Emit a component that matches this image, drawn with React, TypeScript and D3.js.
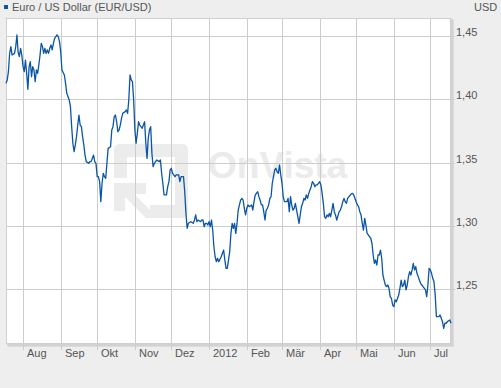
import React from "react";
import * as d3 from "d3";

const TITLE = "Euro / US Dollar (EUR/USD)";
const CURRENCY = "USD";
const START = [2011, 6, 18];
const END = [2012, 6, 18];
const MONTH_LABELS = ["Aug", "Sep", "Okt", "Nov", "Dez", "2012", "Feb", "Mär", "Apr", "Mai", "Jun", "Jul"];
const Y_TICKS = [1.25, 1.3, 1.35, 1.4, 1.45];

// days since 2011-07-18
const dayOffsets = [
  0, 1, 2, 3, 4, 5, 7, 8, 9, 10, 11, 12, 13, 14, 15, 16, 17, 18, 19, 20, 21, 22, 23, 24, 25, 26, 27, 28, 29, 30,
  31, 32, 33, 34, 35, 36, 37, 38, 39, 40, 42, 43, 44, 45, 46, 48, 49, 50, 52, 53, 54, 55, 56, 57, 58, 59, 60, 61, 62, 63,
  64, 65, 66, 68, 69, 70, 72, 73, 74, 75, 76, 77, 78, 79, 80, 81, 82, 83, 84, 86, 87, 88, 89, 90, 91, 92, 93, 94, 95, 96,
  98, 99, 100, 101, 102, 103, 104, 105, 106, 107, 108, 109, 110, 111, 112, 114, 115, 116, 117, 118, 119, 120, 121, 122, 123, 124, 126, 127, 128, 129,
  130, 132, 133, 134, 135, 136, 137, 138, 139, 140, 142, 143, 144, 145, 146, 147, 148, 149, 150, 152, 154, 155, 156, 157, 158, 160, 161, 162, 163, 164,
  165, 166, 167, 168, 169, 170, 171, 172, 173, 174, 175, 177, 178, 179, 180, 181, 182, 183, 184, 185, 186, 187, 188, 189, 190, 191, 192, 193, 194, 195,
  196, 197, 198, 199, 200, 202, 203, 204, 205, 206, 207, 208, 209, 210, 211, 212, 213, 214, 215, 216, 217, 218, 219, 220, 221, 222, 223, 224, 225, 226,
  227, 228, 229, 230, 231, 232, 233, 234, 235, 236, 237, 238, 239, 240, 241, 242, 243, 244, 245, 246, 247, 248, 249, 250, 251, 252, 253, 254, 255, 256,
  257, 258, 259, 260, 261, 262, 263, 264, 265, 266, 267, 268, 269, 270, 271, 272, 274, 275, 276, 277, 278, 279, 280, 281, 282, 284, 285, 286, 288, 289,
  290, 291, 292, 293, 294, 295, 296, 297, 298, 299, 300, 301, 302, 303, 304, 305, 306, 307, 308, 309, 310, 311, 312, 313, 314, 315, 316, 317, 318, 319,
  320, 321, 322, 323, 324, 325, 326, 327, 328, 329, 330, 331, 332, 333, 334, 335, 336, 337, 338, 339, 340, 341, 342, 343, 345, 346, 347, 348, 349, 350,
  351, 352, 353, 354, 355, 356, 357, 358, 359, 360, 361, 362, 363, 364, 365, 366,
];

const rates = [
  1.4126, 1.4153, 1.4218, 1.4363, 1.4416, 1.435, 1.4363, 1.4416, 1.4508, 1.437, 1.4337, 1.4403, 1.435, 1.4258, 1.4218, 1.431, 1.4205, 1.4079, 1.4258, 1.4297, 1.4179, 1.4258, 1.4232, 1.4139, 1.4232, 1.4205, 1.4271, 1.435, 1.4442, 1.4416,
  1.4363, 1.4403, 1.4363, 1.439, 1.4363, 1.4403, 1.443, 1.439, 1.4442, 1.4482, 1.4508, 1.4495, 1.4455, 1.4376, 1.4232, 1.4192, 1.4126, 1.4047, 1.3995, 1.3942, 1.3784, 1.3653, 1.3587, 1.364, 1.3705, 1.3797, 1.3876, 1.3797, 1.3784, 1.3705,
  1.364, 1.356, 1.3508, 1.3495, 1.3508, 1.3508, 1.356, 1.3508, 1.3495, 1.3389, 1.3389, 1.335, 1.3192, 1.3337, 1.3416, 1.3389, 1.3376, 1.3495, 1.3613, 1.3626, 1.3758, 1.3784, 1.3863, 1.3876, 1.3823, 1.3744, 1.3758, 1.3797, 1.385, 1.3889,
  1.3903, 1.3916, 1.3889, 1.3995, 1.4192, 1.4153, 1.4139, 1.3995, 1.3758, 1.3653, 1.3732, 1.3823, 1.3797, 1.3784, 1.3771, 1.3823, 1.3653, 1.3534, 1.3692, 1.3758, 1.3784, 1.3574, 1.3468, 1.3495, 1.3508, 1.3521, 1.3508, 1.3521, 1.3416, 1.3337,
  1.3245, 1.3245, 1.331, 1.335, 1.3442, 1.3455, 1.3416, 1.3403, 1.3389, 1.3403, 1.3403, 1.335, 1.3389, 1.3389, 1.3389, 1.3271, 1.31, 1.2982, 1.3021, 1.3034, 1.3021, 1.3047, 1.3087, 1.3034, 1.3047, 1.3034, 1.3047, 1.3047, 1.2994, 1.3021,
  1.3021, 1.3008, 1.3034, 1.2994, 1.3047, 1.2968, 1.2836, 1.2757, 1.2718, 1.2745, 1.2718, 1.2757, 1.2784, 1.281, 1.2731, 1.2665, 1.2665, 1.2731, 1.2797, 1.2942, 1.3021, 1.2982, 1.3021, 1.2942, 1.3021, 1.3126, 1.3166, 1.3205, 1.3218, 1.3205,
  1.3139, 1.3087, 1.3139, 1.3166, 1.3153, 1.3166, 1.3126, 1.3192, 1.3245, 1.3258, 1.3271, 1.3231, 1.3205, 1.3166, 1.3166, 1.3113, 1.3047, 1.3126, 1.3139, 1.3166, 1.3218, 1.3231, 1.3337, 1.3389, 1.3442, 1.3455, 1.3428, 1.3416, 1.3482, 1.3403,
  1.3337, 1.3231, 1.3192, 1.3192, 1.3192, 1.3218, 1.3113, 1.3231, 1.3166, 1.3126, 1.3139, 1.3179, 1.3126, 1.3073, 1.3021, 1.3087, 1.3153, 1.3179, 1.3218, 1.3205, 1.3245, 1.3218, 1.3258, 1.3284, 1.331, 1.335, 1.3337, 1.331, 1.3324, 1.3324,
  1.3337, 1.335, 1.3324, 1.3258, 1.3179, 1.3073, 1.306, 1.3087, 1.3073, 1.31, 1.3073, 1.3126, 1.3179, 1.3113, 1.3087, 1.3047, 1.3113, 1.3126, 1.3153, 1.3192, 1.3218, 1.3192, 1.3179, 1.3218, 1.3231, 1.3253, 1.3258, 1.3245, 1.3192, 1.3166,
  1.3153, 1.3113, 1.3087, 1.3021, 1.2968, 1.306, 1.3008, 1.2942, 1.2929, 1.2916, 1.2903, 1.2863, 1.2771, 1.2705, 1.2731, 1.2692, 1.2771, 1.2771, 1.281, 1.2745, 1.2613, 1.2573, 1.2534, 1.2521, 1.2534, 1.2508, 1.2442, 1.2429, 1.2376, 1.2363,
  1.2416, 1.2402, 1.2429, 1.2455, 1.2508, 1.2573, 1.2521, 1.2534, 1.2573, 1.2495, 1.2534, 1.26, 1.2639, 1.2613, 1.2653, 1.2705, 1.2653, 1.2679, 1.2626, 1.26, 1.2573, 1.2547, 1.2534, 1.2521, 1.2495, 1.2442, 1.2534, 1.2666, 1.2653, 1.2626,
  1.2587, 1.256, 1.2455, 1.2284, 1.2284, 1.2284, 1.2297, 1.2271, 1.2244, 1.2192, 1.2232, 1.2232, 1.2244, 1.2252, 1.2258, 1.2232,
];

const FONT = "'Liberation Sans', Arial, Helvetica, sans-serif";

export default function App() {
  const W = 501;
  const H = 388;
  const left = 6, right = 451, top = 18, bottom = 344;

  const x = d3
    .scaleTime()
    .domain([new Date(START[0], START[1], START[2]), new Date(END[0], END[1], END[2])])
    .range([left, right]);
  const y = d3.scaleLinear().domain([1.25, 1.45]).range([289.3, 36]);

  const data = dayOffsets.map((d, i) => ({
    date: new Date(START[0], START[1], START[2] + d),
    value: rates[i],
  }));

  const line = d3
    .line<{ date: Date; value: number }>()
    .x((d) => x(d.date))
    .y((d) => y(d.value));

  const months = d3.timeMonth.range(new Date(2011, 7, 1), new Date(END[0], END[1], END[2]));
  const fmtFallback = d3.timeFormat("%b");

  return (
    <svg
      width={W}
      height={H}
      style={{ position: "absolute", left: 0, top: 0, background: "#eeeeee", display: "block" }}
    >
      <rect x={0} y={0} width={W} height={H} fill="#eeeeee" />
      {/* title */}
      <rect x={4} y={5} width={4} height={4} fill="#0a55a6" />
      <text x={12} y={11} fontFamily={FONT} fontSize={11} fill="#555">
        {TITLE}
      </text>
      <text x={474} y={11} fontFamily={FONT} fontSize={11} fill="#555">
        {CURRENCY}
      </text>

      {/* plot frame with shadow */}
      <rect x={left + 2} y={top + 2} width={right - left + 1} height={bottom - top + 1} fill="#dcdcdc" />
      <rect x={left + 1} y={top + 1} width={right - left + 1} height={bottom - top + 1} fill="#d2d2d2" />
      <rect x={left} y={top} width={right - left} height={bottom - top} fill="#ffffff" />

      {/* watermark */}
      <g fill="#ececec">
        <path d="M114 150 Q114 144 120 144 L182 144 Q188 144 188 150 L188 212 Q188 218 182 218 L150 218 L150 205 L175 205 L175 157 L127 157 L127 178 L114 178 Z" />
        <path d="M114 183 L146 183 L146 194 L134 194 L158 218 L146 218 L125 197 L125 211 L114 211 Z" />
        <text x={208} y={178} fontFamily={FONT} fontWeight="bold" fontSize={37} fill="#ebebeb">
          OnVista
        </text>
      </g>

      {/* vertical grid + month ticks */}
      {months.map((m, i) => {
        const xx = Math.round(x(m)) + 0.5;
        return (
          <g key={i}>
            <line x1={xx} x2={xx} y1={top} y2={bottom + 6} stroke="#cccccc" strokeWidth={1} />
            <text x={xx + 3.5} y={357} fontFamily={FONT} fontSize={11} fill="#555">
              {MONTH_LABELS[i] ?? fmtFallback(m)}
            </text>
          </g>
        );
      })}

      {/* horizontal grid + value ticks */}
      {Y_TICKS.map((t) => {
        const yy = Math.round(y(t)) + 0.5;
        return (
          <g key={t}>
            <line x1={left} x2={right + 4} y1={yy} y2={yy} stroke="#cccccc" strokeWidth={1} />
            <text x={456} y={yy - 1} fontFamily={FONT} fontSize={11} fill="#555">
              {t.toFixed(2).replace(".", ",")}
            </text>
          </g>
        );
      })}

      {/* frame border */}
      <rect x={left + 0.5} y={top + 0.5} width={right - left - 1} height={bottom - top - 1} fill="none" stroke="#cfcfcf" />

      {/* line */}
      <path d={line(data) || ""} fill="none" stroke="#0a55a6" strokeWidth={1.3} strokeLinejoin="round" />
    </svg>
  );
}
